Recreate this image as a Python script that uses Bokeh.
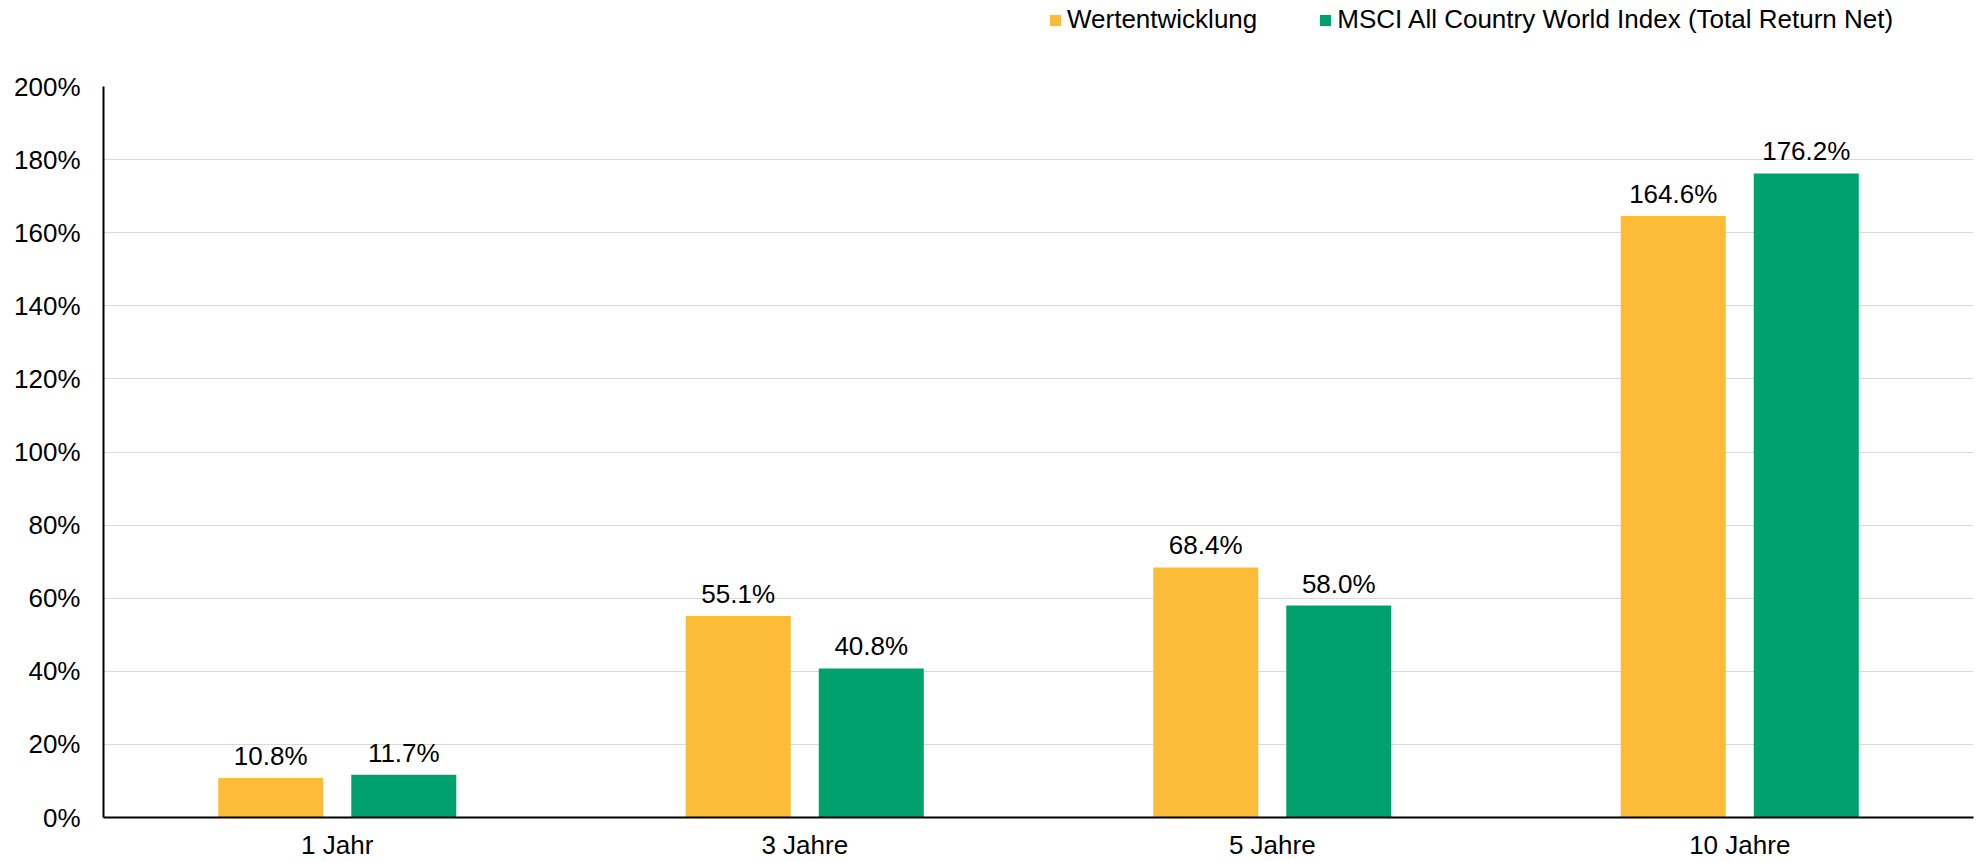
from bokeh.plotting import figure
from bokeh.layouts import column
from bokeh.models import ColumnDataSource, FactorRange, Range1d, Legend, LegendItem, PrintfTickFormatter, FixedTicker
from bokeh.transform import dodge
from bokeh.core.properties import value
from bokeh.embed import file_html
from bokeh.resources import INLINE

categories = ["1 Jahr", "3 Jahre", "5 Jahre", "10 Jahre"]
fund = [10.8, 55.1, 68.4, 164.6]
index = [11.7, 40.8, 58.0, 176.2]
series_names = ["Wertentwicklung", "MSCI All Country World Index (Total Return Net)"]
y_ticks = [0, 20, 40, 60, 80, 100, 120, 140, 160, 180, 200]

ORANGE = "#FDBC38"
GREEN = "#00A16D"
FONT = "Liberation Sans"
FS = "26px"

W = 1983
LEG_H = 70
MAIN_H = 862 - LEG_H

src = ColumnDataSource(data=dict(
    cat=categories,
    fund=fund,
    index=index,
    fund_lbl=[f"{v:.1f}%" for v in fund],
    index_lbl=[f"{v:.1f}%" for v in index],
))

# ---- main chart ----
p = figure(
    x_range=FactorRange(factors=categories, range_padding=0),
    y_range=Range1d(0, 200),
    width=W, height=MAIN_H,
    output_backend="svg", toolbar_location=None,
    min_border_left=103, min_border_right=10, min_border_top=86 - LEG_H, min_border_bottom=44,
)
p.outline_line_color = None
p.background_fill_color = "white"
p.border_fill_color = "white"

bw = 0.2246
off = 0.1423
p.vbar(x=dodge("cat", -off, range=p.x_range), top="fund", width=bw, source=src,
       fill_color=ORANGE, line_color=None)
p.vbar(x=dodge("cat", off, range=p.x_range), top="index", width=bw, source=src,
       fill_color=GREEN, line_color=None)

for col, lbl, o in (("fund", "fund_lbl", -off), ("index", "index_lbl", off)):
    p.text(x=dodge("cat", o, range=p.x_range), y=col, text=lbl, source=src,
           text_align="center", text_baseline="bottom", y_offset=-7,
           text_font=value(FONT), text_font_size=FS, text_color="#000000")

p.yaxis.ticker = FixedTicker(ticks=y_ticks)
p.yaxis.formatter = PrintfTickFormatter(format="%d%%")
for ax in (p.xaxis[0], p.yaxis[0]):
    ax.axis_line_color = "black"
    ax.axis_line_width = 2
    ax.major_tick_line_color = None
    ax.minor_tick_line_color = None
    ax.major_tick_in = 0
    ax.major_tick_out = 0
    ax.major_label_text_font = FONT
    ax.major_label_text_font_size = FS
    ax.major_label_text_color = "#000000"
p.yaxis.major_label_standoff = 23
p.xaxis.major_label_standoff = 12

p.xgrid.grid_line_color = None
p.ygrid.ticker = FixedTicker(ticks=y_ticks)
p.ygrid.grid_line_color = "#D9D9D9"
p.ygrid.grid_line_width = 1

# ---- legend strip (its renderers use the same data but are hidden) ----
pl = figure(width=W, height=LEG_H, x_range=Range1d(0, 1), y_range=Range1d(0, 1),
            x_axis_type=None, y_axis_type=None,
            output_backend="svg", toolbar_location=None,
            min_border_left=0, min_border_right=0, min_border_top=0, min_border_bottom=0)
pl.outline_line_color = None
pl.xgrid.grid_line_color = None
pl.ygrid.grid_line_color = None
l1 = pl.vbar(x="fund", top="fund", width=0.1, source=src, fill_color=ORANGE, line_color=None)
l2 = pl.vbar(x="index", top="index", width=0.1, source=src, fill_color=GREEN, line_color=None)
l1.visible = False
l2.visible = False

legend = Legend(
    items=[LegendItem(label=series_names[0], renderers=[l1]),
           LegendItem(label=series_names[1], renderers=[l2])],
    location=(945, 35), orientation="horizontal",
    glyph_width=14, glyph_height=14, label_standoff=5, spacing=61,
    label_height=30, padding=0, margin=0, border_line_color=None, background_fill_alpha=0,
    label_text_font=FONT, label_text_font_size=FS, label_text_color="#000000",
)
pl.add_layout(legend, "center")

layout = column(pl, p, spacing=0)
open("out.html", "w").write(file_html(layout, INLINE))
